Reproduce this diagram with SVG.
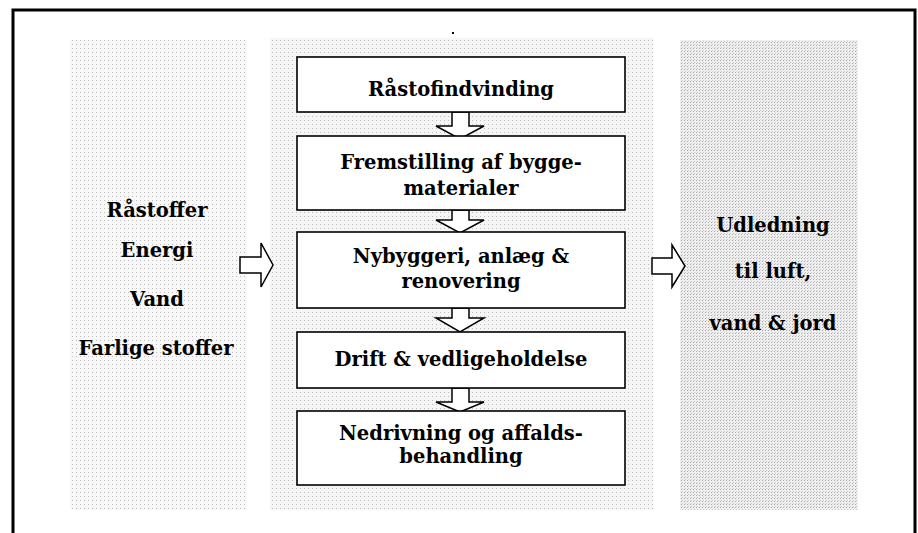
<svg xmlns="http://www.w3.org/2000/svg" width="918" height="533" viewBox="0 0 918 533">
<defs>
<pattern id="dotsL" width="4" height="4" patternUnits="userSpaceOnUse">
<rect x="0" y="0" width="1" height="1" fill="#bcbcbc"/>
</pattern>
<pattern id="dotsR" width="3" height="3" patternUnits="userSpaceOnUse">
<rect x="0" y="0" width="1" height="1" fill="#a8a8a8"/>
<rect x="1" y="2" width="1" height="1" fill="#cccccc"/>
</pattern>
</defs>
<style>
.frame{fill:none;stroke:#000;stroke-width:3}
.box{fill:#fff;stroke:#000;stroke-width:1.6}
.arr{fill:#fff;stroke:#000;stroke-width:1.5;stroke-linejoin:miter}
text{font-family:"DejaVu Serif","Liberation Serif",serif;font-size:19.5px;font-weight:bold;fill:#000;text-anchor:middle}
</style>
<rect width="918" height="533" fill="#fff"/>
<!-- frame -->
<path class="frame" d="M13,533 V10 H915 V533"/>
<rect x="452" y="32" width="2" height="2" fill="#000"/>
<!-- shaded panels -->
<rect x="70" y="40" width="177" height="470" fill="#f8f8f8"/>
<rect x="70" y="40" width="177" height="470" fill="url(#dotsL)"/>
<rect x="270" y="38" width="383" height="472" fill="#f5f5f5"/>
<rect x="270" y="38" width="383" height="472" fill="url(#dotsL)"/>
<rect x="680" y="40" width="178" height="470" fill="#efefef"/>
<rect x="680" y="40" width="178" height="470" fill="url(#dotsR)"/>
<g id="connectors">
<polygon class="arr" points="452,112 469,112 469,126 484,126 460,139 436,126 452,126"/>
<polygon class="arr" points="452,210 469,210 469,220 484,220 460,233 436,220 452,220"/>
<polygon class="arr" points="452,308 469,308 469,318 484,318 460,332 436,318 452,318"/>
<polygon class="arr" points="452,388 469,388 469,402 484,402 460,412 436,402 452,402"/>
<polygon class="arr" points="240,257 261,257 261,243 273,265 261,287 261,273 240,273"/>
<polygon class="arr" points="652,258 672,258 672,245 685,266 672,287 672,274 652,274"/>
</g>
<g id="inputs">
<text x="157" y="217">Råstoffer</text>
<text x="157" y="257">Energi</text>
<text x="157" y="306">Vand</text>
<text x="156" y="355">Farlige stoffer</text>
</g>
<g id="box1">
<rect class="box" x="297" y="57" width="328" height="55"/>
<text x="461" y="96">Råstofindvinding</text>
</g>
<g id="box2">
<rect class="box" x="297" y="136" width="328" height="74"/>
<text x="461" y="169">Fremstilling af bygge-</text>
<text x="461" y="195">materialer</text>
</g>
<g id="box3">
<rect class="box" x="297" y="232" width="328" height="76"/>
<text x="461" y="263">Nybyggeri, anlæg &amp;</text>
<text x="461" y="288">renovering</text>
</g>
<g id="box4">
<rect class="box" x="297" y="332" width="328" height="56"/>
<text x="461" y="366">Drift &amp; vedligeholdelse</text>
</g>
<g id="box5">
<rect class="box" x="297" y="411" width="328" height="74"/>
<text x="461" y="440">Nedrivning og affalds-</text>
<text x="461" y="463">behandling</text>
</g>
<g id="outputs">
<text x="773" y="232">Udledning</text>
<text x="773" y="278">til luft,</text>
<text x="773" y="330">vand &amp; jord</text>
</g>
</svg>
